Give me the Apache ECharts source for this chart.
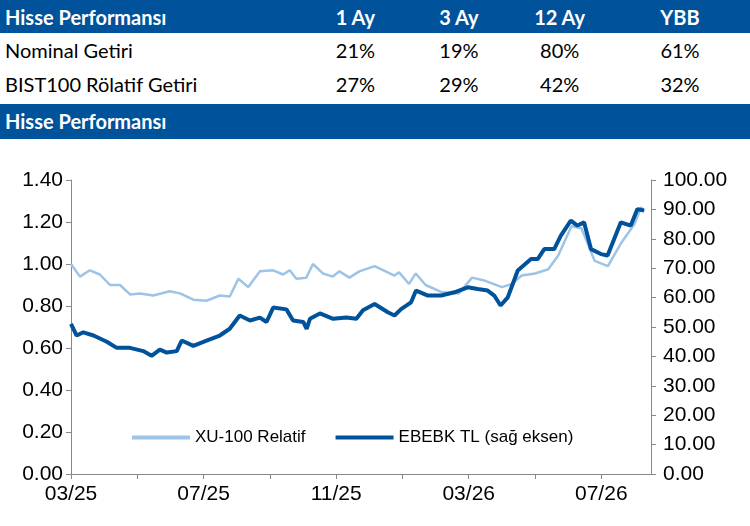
<!DOCTYPE html>
<html>
<head>
<meta charset="utf-8">
<script src="https://cdn.jsdelivr.net/npm/echarts@6/dist/echarts.min.js"></script>
<style>
  body { margin: 0; width: 750px; height: 526px; background: #fff; overflow: hidden; font-family: Lato, "Noto Sans", sans-serif; }
  table { border-collapse: collapse; width: 750px; }
  td { height: 34px; font-size: 20px; padding: 0; color: #000; }
  tr.hd td { background: #00529b; color: #fff; font-weight: bold; height: 33px; }
  td.c { text-align: center; width: 72px; }
  .band { background: #00529b; color: #fff; font-weight: bold; font-size: 20px; height: 35px; line-height: 35px; padding-left: 5px; margin-top: 3px; }
  #main { width: 750px; height: 386px; }
</style>
</head>
<body>
<table id="tbl"></table>
<div class="band">Hisse Performansı</div>
<div id="main"></div>
<script type="text/javascript">
// tablo
var tableHead = ['Hisse Performansı', '1 Ay', '3 Ay', '12 Ay', 'YBB'];
var tableRows = [
  ['Nominal Getiri', '21%', '19%', '80%', '61%'],
  ['BIST100 Rölatif Getiri', '27%', '29%', '42%', '32%']
];
var html = '<tr class="hd">';
tableHead.forEach(function (h, i) {
  html += i === 0 ? '<td style="padding-left:5px">' + h + '</td>' : '<td class="c">' + h + '</td>';
});
html += '</tr>';
tableRows.forEach(function (r) {
  html += '<tr>';
  r.forEach(function (v, i) {
    html += i === 0 ? '<td style="padding-left:5px">' + v + '</td>' : '<td class="c">' + v + '</td>';
  });
  html += '</tr>';
});
document.getElementById('tbl').innerHTML = '<colgroup><col style="width:216px"><col style="width:76px"><col style="width:68px"><col style="width:72px"><col style="width:100px"><col></colgroup>' + html;

// grafik verisi (x = 03/25'ten itibaren ay)
var monthLabels = {0: '03/25', 4: '07/25', 8: '11/25', 12: '03/26', 16: '07/26'};
var xuMonths = [0, 0.27, 0.57, 0.87, 1.18, 1.48, 1.78, 2.08, 2.48, 2.98, 3.29, 3.69, 4.09, 4.49, 4.79, 5.05, 5.35, 5.7, 6.1, 6.4, 6.6, 6.8, 7.1, 7.3, 7.6, 7.9, 8.1, 8.4, 8.7, 9.16, 9.76, 9.9, 10.2, 10.4, 10.7, 11.2, 11.7, 12.1, 12.5, 13.0, 13.3, 13.6, 14.0, 14.4, 14.7, 15.1, 15.4, 15.8, 16.2, 16.6, 17.0, 17.2, 17.3];
var xuValues = [1.00, 0.94, 0.97, 0.95, 0.90, 0.90, 0.855, 0.86, 0.85, 0.87, 0.86, 0.83, 0.825, 0.85, 0.845, 0.93, 0.89, 0.965, 0.97, 0.95, 0.97, 0.93, 0.935, 1.00, 0.955, 0.94, 0.965, 0.935, 0.965, 0.99, 0.945, 0.96, 0.905, 0.955, 0.90, 0.865, 0.86, 0.935, 0.92, 0.89, 0.905, 0.945, 0.955, 0.975, 1.04, 1.18, 1.17, 1.015, 0.99, 1.10, 1.19, 1.27, 1.25];
var ebMonths = [0, 0.17, 0.37, 0.68, 1.08, 1.38, 1.78, 2.18, 2.43, 2.68, 2.89, 3.19, 3.34, 3.69, 4.09, 4.49, 4.79, 5.09, 5.40, 5.70, 5.90, 6.10, 6.50, 6.70, 7.01, 7.11, 7.21, 7.51, 7.91, 8.31, 8.61, 8.81, 9.16, 9.56, 9.76, 9.96, 10.26, 10.41, 10.77, 11.17, 11.57, 11.97, 12.27, 12.57, 12.77, 12.96, 13.18, 13.48, 13.88, 14.08, 14.28, 14.58, 14.78, 15.08, 15.28, 15.48, 15.69, 15.99, 16.19, 16.59, 16.89, 17.09, 17.29];
var ebValues = [51.1, 47.1, 48.2, 47.1, 45.0, 42.9, 42.9, 41.8, 40.2, 42.3, 41.3, 41.8, 45.4, 43.6, 45.4, 47.1, 49.4, 53.9, 52.2, 53.2, 51.7, 56.6, 56.0, 52.2, 51.7, 49.4, 52.8, 54.6, 52.8, 53.2, 52.8, 55.7, 57.8, 55.0, 53.9, 56.1, 58.4, 62.4, 60.7, 60.7, 61.8, 63.5, 62.9, 62.4, 60.7, 57.3, 60.1, 69.2, 73.1, 73.1, 76.5, 76.5, 81.1, 86.2, 84.5, 85.6, 76.5, 74.8, 74.3, 85.6, 84.5, 90.1, 89.6];

function pairs(xs, ys) { return xs.map(function (x, i) { return [x, ys[i]]; }); }

var myChart = echarts.init(document.getElementById('main'));
var axisFont = { color: '#000', fontSize: 21, fontFamily: 'Liberation Sans' };
var option = {
  animation: false,
  grid: { left: 71, right: 99, top: 41, bottom: 51 },
  legend: {
    left: 127, bottom: 74, itemWidth: 58, itemHeight: 4, itemGap: 30,
    icon: 'rect',
    textStyle: { color: '#000', fontSize: 17, fontFamily: 'Liberation Sans' },
    data: ['XU-100 Relatif', 'EBEBK TL (sağ eksen)']
  },
  xAxis: {
    type: 'value', min: 0, max: 17.5, interval: 2,
    axisLine: { lineStyle: { color: '#888' } },
    axisTick: { lineStyle: { color: '#888' }, length: 5 },
    splitLine: { show: false },
    axisLabel: Object.assign({ margin: 10, showMaxLabel: false, formatter: function (v) { return monthLabels[v] || ''; } }, axisFont)
  },
  yAxis: [
    {
      type: 'value', min: 0, max: 1.4, interval: 0.2, position: 'left',
      axisLine: { show: true, lineStyle: { color: '#888' } },
      axisTick: { show: true, lineStyle: { color: '#888' }, length: 5 },
      splitLine: { show: false },
      axisLabel: Object.assign({ margin: 8, formatter: function (v) { return v.toFixed(2); } }, axisFont)
    },
    {
      type: 'value', min: 0, max: 100, interval: 10, position: 'right',
      axisLine: { show: true, lineStyle: { color: '#888' } },
      axisTick: { show: true, lineStyle: { color: '#888' }, length: 5 },
      splitLine: { show: false },
      axisLabel: Object.assign({ margin: 12, formatter: function (v) { return v.toFixed(2); } }, axisFont)
    }
  ],
  series: [
    {
      name: 'XU-100 Relatif', type: 'line', yAxisIndex: 0, showSymbol: false,
      itemStyle: { color: '#9dc3e6' }, lineStyle: { color: '#9dc3e6', width: 2.5 },
      data: pairs(xuMonths, xuValues)
    },
    {
      name: 'EBEBK TL (sağ eksen)', type: 'line', yAxisIndex: 1, showSymbol: false,
      itemStyle: { color: '#00529b' }, lineStyle: { color: '#00529b', width: 4 },
      data: pairs(ebMonths, ebValues)
    }
  ]
};
myChart.setOption(option);
</script>
</body>
</html>
